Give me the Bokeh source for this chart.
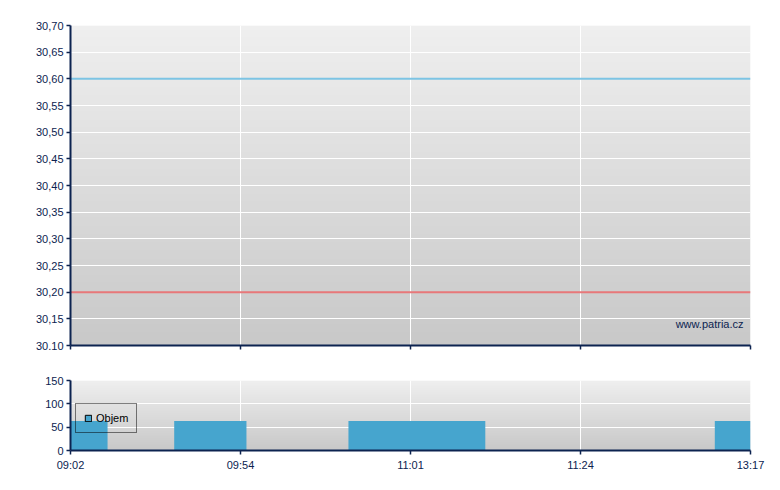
import numpy as np
from bokeh.plotting import figure
from bokeh.layouts import column
from bokeh.models import (Range1d, FixedTicker, Legend, LegendItem, Label)
from bokeh.embed import file_html
from bokeh.resources import INLINE

# ---------------- data ----------------
time_labels = ["09:02", "09:54", "11:01", "11:24", "13:17"]
time_index = [0, 1, 2, 3, 4]

price_ticks = [30.10, 30.15, 30.20, 30.25, 30.30, 30.35, 30.40,
               30.45, 30.50, 30.55, 30.60, 30.65, 30.70]
price_tick_labels = ["30.10", "30,15", "30,20", "30,25", "30,30", "30,35", "30,40",
                     "30,45", "30,50", "30,55", "30,60", "30,65", "30,70"]

upper_level = [30.60, 30.60, 30.60, 30.60, 30.60]
lower_level = [30.20, 30.20, 30.20, 30.20, 30.20]

bar_start = [0.0, 0.61, 1.635, 3.79]
bar_end = [0.218, 1.035, 2.44, 4.0]
volume = [63, 63, 63, 63]

volume_ticks = [0, 50, 100, 150]

# ---------------- styles ----------------
NAVY = "#0c2350"
BAR = "#46a5ce"
FONT = "Liberation Sans"


def gradient(n=256, top=239, bottom=200):
    v = np.linspace(bottom, top, n).round().astype(np.uint8)
    img = np.zeros((n, 1, 4), dtype=np.uint8)
    img[:, 0, 0] = v
    img[:, 0, 1] = v
    img[:, 0, 2] = v
    img[:, 0, 3] = 255
    return img.view(np.uint32).reshape(n, 1)


def style(p):
    p.outline_line_color = None
    p.background_fill_color = "#ffffff"
    p.border_fill_color = "#ffffff"
    for ax in (p.xaxis[0], p.yaxis[0]):
        ax.axis_line_color = NAVY
        ax.axis_line_width = 2
        ax.major_tick_line_color = NAVY
        ax.major_tick_line_width = 1.5
        ax.major_tick_out = 4
        ax.major_tick_in = 0
        ax.minor_tick_line_color = None
        ax.major_label_text_color = NAVY
        ax.major_label_text_font = FONT
        ax.major_label_text_font_size = "11px"
    p.xaxis[0].major_label_standoff = 4
    p.yaxis[0].major_label_standoff = 3
    p.xgrid.grid_line_color = "white"
    p.ygrid.grid_line_color = "white"
    p.xgrid.grid_line_width = 1
    p.ygrid.grid_line_width = 1


x_range = Range1d(0, 4)

# ---------------- top chart ----------------
top = figure(frame_width=680, frame_height=320, x_range=x_range,
             y_range=Range1d(price_ticks[0], price_ticks[-1]),
             output_backend="svg", toolbar_location=None,
             min_border_left=70, min_border_right=22,
             min_border_top=25, min_border_bottom=25)
style(top)
top.image_rgba(image=[gradient()], x=x_range.start, y=price_ticks[0],
               dw=x_range.end - x_range.start, dh=price_ticks[-1] - price_ticks[0],
               level="image")
top.xaxis.ticker = FixedTicker(ticks=time_index)
top.xaxis.major_label_overrides = {i: "" for i in time_index}
top.yaxis.ticker = FixedTicker(ticks=price_ticks)
top.yaxis.major_label_overrides = dict(zip(price_ticks, price_tick_labels))

top.line(time_index, upper_level, line_color="#7cc4e4", line_width=2)
top.line(time_index, lower_level, line_color="#e8787a", line_width=2)

top.add_layout(Label(x=x_range.end, y=price_ticks[0], x_offset=-7, y_offset=22,
                     text="www.patria.cz", text_align="right", text_baseline="middle",
                     text_font=FONT, text_font_size="11px", text_color=NAVY))

# ---------------- bottom chart ----------------
bot = figure(frame_width=680, frame_height=70, x_range=x_range,
             y_range=Range1d(volume_ticks[0], volume_ticks[-1]),
             output_backend="svg", toolbar_location=None,
             min_border_left=70, min_border_right=22,
             min_border_top=10, min_border_bottom=24)
style(bot)
bot.image_rgba(image=[gradient()], x=x_range.start, y=volume_ticks[0],
               dw=x_range.end - x_range.start, dh=volume_ticks[-1] - volume_ticks[0],
               level="image")
bot.xaxis.ticker = FixedTicker(ticks=time_index)
bot.xaxis.major_label_overrides = dict(zip(time_index, time_labels))
bot.yaxis.ticker = FixedTicker(ticks=volume_ticks)

bars = bot.quad(left=bar_start, right=bar_end, bottom=0, top=volume,
                fill_color=BAR, line_color=None)
# hidden copy of the bars, used only for the outlined legend swatch
swatch = bot.quad(left=bar_start, right=bar_end, bottom=0, top=volume,
                  fill_color=BAR, line_color="black", line_width=1, visible=False)

legend = Legend(items=[LegendItem(label="Objem", renderers=[swatch])],
                location=(5, 17), orientation="vertical",
                border_line_color="black", border_line_width=1,
                background_fill_alpha=0, padding=8, margin=0,
                glyph_width=8, glyph_height=8, label_standoff=4,
                label_height=12, label_width=20, spacing=0,
                inactive_fill_alpha=0, click_policy="none",
                label_text_font=FONT, label_text_font_size="11px",
                label_text_color="black")
bot.add_layout(legend, "center")

layout = column(top, bot, spacing=0)

open("out.html", "w").write(file_html(layout, INLINE))
